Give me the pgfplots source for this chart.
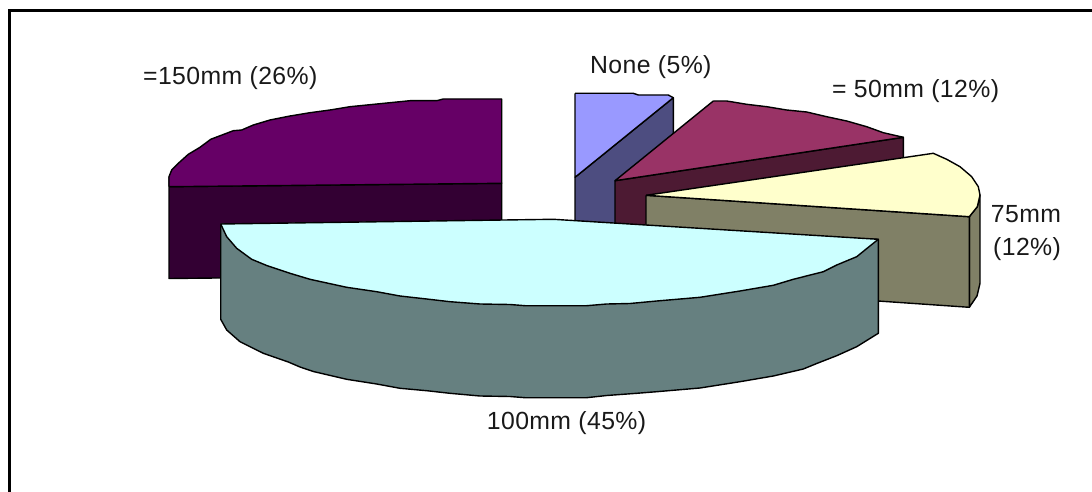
\documentclass[border=0pt]{standalone}
\usepackage{pgfplots}
\pgfplotsset{compat=1.18}
\usepackage{fontspec}
\setmainfont[LetterSpace=1.6]{Liberation Sans}
\definecolor{c150top}{HTML}{660066}
\definecolor{c150side}{HTML}{330033}
\definecolor{cnonetop}{HTML}{9999FF}
\definecolor{cnoneside}{HTML}{4D4D80}
\definecolor{c50top}{HTML}{993366}
\definecolor{c50side}{HTML}{4D1A33}
\definecolor{c75top}{HTML}{FFFFCC}
\definecolor{c75side}{HTML}{808066}
\definecolor{c100top}{HTML}{CCFFFF}
\definecolor{c100side}{HTML}{668080}
\tikzset{slice/.style={draw=black,line width=1.4pt,line join=round,mark=none,fill=#1}}
\newcommand{\lbl}[3]{\node[anchor=base west,inner sep=0pt,text=black!90] at (axis cs:#1,#2) {\fontsize{24.8}{28}\selectfont #3};}
\begin{document}
\begin{tikzpicture}
\begin{axis}[
  name=ax,
  scale only axis, width=1092pt, height=492pt,
  xmin=0, xmax=1092, ymin=0, ymax=492, y dir=reverse,
  hide axis, clip=true,
]
% frame: only the top and left edges are ruled
\addplot[black,line width=3pt,mark=none] coordinates {(9.2,492) (9.2,11) (1092,11)};

% =150mm slice
\addplot[slice=c150side] coordinates {(169,176.7) (169,278.5) (501.7,275) (501.7,183.3) (169,186.7) (169,176.7)};
\addplot[slice=c150top] coordinates {(169,186.7) (169,176.7) (171.7,170) (178.3,163.3) (188.3,154.3) (200,147.3) (210.7,139.3) (233.3,130.7) (241.7,130) (253.3,125) (270,120) (290,116) (310,112.7) (330,110) (350,106.7) (370,104.7) (390,102.7) (410,100.7) (436.7,100.7) (443.3,99) (501.7,99) (501.7,183.3) (169,186.7)};

% None slice
\addplot[slice=cnoneside] coordinates {(575,177.3) (673.3,97.7) (673.3,182) (575,262) (575,177.3)};
\addplot[slice=cnonetop] coordinates {(575,93.3) (633.3,93.3) (638.3,95) (668.3,95) (673.3,97.7) (575,177.3) (575,93.3)};

% =50mm slice
\addplot[slice=c50side] coordinates {(615,180.7) (903.3,137.3) (903.3,220) (615,265) (615,180.7)};
\addplot[slice=c50top] coordinates {(713.3,101) (726.7,101) (746.7,104.3) (766.7,106.7) (786.7,110) (806.7,112) (826.7,116.7) (846.7,121) (866.7,126.7) (883.3,132.7) (903.3,137.3) (615,180.7) (713.3,101)};

% 75mm slice
\addplot[slice=c75side] coordinates {(969.3,216.7) (977.3,206.7) (980,195) (980,283.3) (977,296) (969.3,307.3) (969.3,216.7)};
\addplot[slice=c75side] coordinates {(646,195.3) (969.3,216.7) (969.3,307.3) (646,285) (646,195.3)};
\addplot[slice=c75top] coordinates {(646,195.3) (933.3,153.3) (946.7,159.3) (960,166.7) (971.7,176.7) (978.3,186.7) (980,195) (977.3,206.7) (969.3,216.7) (646,195.3)};

% 100mm slice
\addplot[slice=c100side] coordinates {(220.7,224) (220.7,319.3) (226.7,330) (240,341.7) (263.3,353.3) (288.3,362) (300,367) (313.3,371.5) (346.7,379.3) (376.7,384) (400,388.3) (426.7,390.7) (450,393.3) (480,396) (510,396.5) (525,397.7) (586.7,397.7) (606.7,395.5) (636.7,393.3) (656.7,391.7) (700,388) (740,381.7) (773.3,376) (803.3,369) (816.7,363.5) (836.7,355.7) (856.7,346.7) (878.3,333.3) (878.3,239.3) (220.7,224)};
\addplot[slice=c100top] coordinates {(220.7,224) (553.3,219.3) (878.3,239.3) (868.3,247.3) (856.7,256.7) (836.7,265) (823.3,271.7) (793.3,279.3) (773.3,285.3) (740,291) (700,297.3) (656.7,301) (630,303.5) (606.7,304) (586.7,305.7) (525,305.7) (510,304.5) (480,304) (450,301.7) (426.7,299) (400,296) (376.7,291.7) (346.7,287.3) (310,279.3) (290,273.3) (266.7,265.5) (251.7,259.3) (236.7,248.3) (226.7,236.7) (220.7,224)};

% slice labels
\lbl{143}{85}{=150mm (26\%)}
\lbl{590}{74}{None (5\%)}
\lbl{832}{97.3}{= 50mm (12\%)}
\lbl{990.7}{222.3}{75mm}
\lbl{993}{255}{(12\%)}
\lbl{486.7}{429.3}{100mm (45\%)}
\end{axis}
\pgfresetboundingbox
\path[use as bounding box] (ax.south west) rectangle (ax.north east);
\end{tikzpicture}
\end{document}
